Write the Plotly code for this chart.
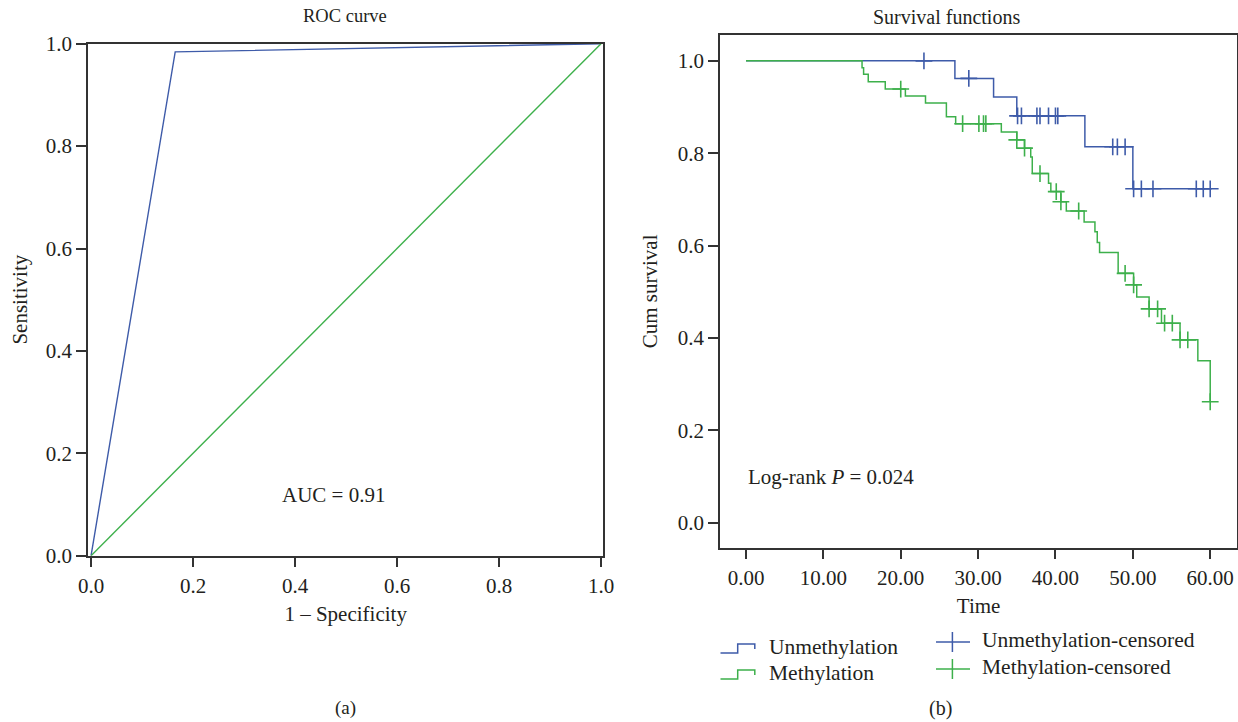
import numpy as np
import plotly.graph_objects as go

W, H = 1238, 722
FONT = "Liberation Serif"
TXT = "#231f20"
AX = "#333333"
BLUE = "#3E5BA9"
GREEN = "#3DB04B"
FS = 21

# ---------------- data ----------------
# ROC curve
roc_fpr = [0.0, 0.165, 1.0]
roc_tpr = [0.0, 0.984, 1.0]
ref_fpr = [0.0, 1.0]
ref_tpr = [0.0, 1.0]
auc_text = "AUC = 0.91"

# Kaplan-Meier: Unmethylation
unm_time = [0.0, 27.0, 32.0, 35.0, 43.8, 50.0, 60.0]
unm_surv = [1.0, 0.962, 0.922, 0.881, 0.814, 0.723, 0.723]
unm_cens = [23.0, 28.8, 35.1, 35.6, 37.6, 38.0, 39.1, 40.0, 40.3,
            47.4, 48.0, 49.0, 50.1, 51.1, 52.6, 58.2, 59.1, 60.0]

# Kaplan-Meier: Methylation
met_time = [0.0, 15.0, 15.2, 15.8, 18.0, 20.6, 23.2, 25.9, 27.1, 33.0, 35.0,
            36.0, 36.8, 37.0, 39.1, 39.4, 40.7, 41.4, 43.7, 45.1, 45.4, 45.7,
            48.1, 50.1, 50.5, 52.1, 53.7, 56.1, 58.4, 60.0]
met_surv = [1.0, 0.985, 0.971, 0.955, 0.939, 0.924, 0.909, 0.879, 0.864, 0.846, 0.829,
            0.811, 0.792, 0.756, 0.735, 0.717, 0.695, 0.675, 0.651, 0.630, 0.607, 0.585,
            0.540, 0.515, 0.489, 0.463, 0.432, 0.396, 0.351, 0.262]
met_cens = [20.0, 28.0, 30.1, 30.7, 31.0, 35.0, 36.0, 38.0, 40.1, 40.7, 43.0,
            49.0, 50.1, 52.1, 53.2, 54.1, 55.1, 56.1, 57.1, 60.0]

roc_ticks = [0.0, 0.2, 0.4, 0.6, 0.8, 1.0]
time_ticks = [0, 10, 20, 30, 40, 50, 60]
surv_ticks = [0.0, 0.2, 0.4, 0.6, 0.8, 1.0]
logrank_text = "Log-rank <i>P</i> = 0.024"


def step_value(times, surv, t):
    idx = np.searchsorted(np.asarray(times), np.asarray(t), side="right") - 1
    return list(np.asarray(surv)[idx])


def px(x):
    return x / W


def py(y):
    return 1 - y / H


fig = go.Figure()

# ROC traces
fig.add_trace(go.Scatter(x=roc_fpr, y=roc_tpr, mode="lines",
                         line=dict(color=BLUE, width=1.4), xaxis="x", yaxis="y",
                         showlegend=False, hoverinfo="skip"))
fig.add_trace(go.Scatter(x=ref_fpr, y=ref_tpr, mode="lines",
                         line=dict(color=GREEN, width=1.4), xaxis="x", yaxis="y",
                         showlegend=False, hoverinfo="skip"))

# Survival traces
fig.add_trace(go.Scatter(x=unm_time, y=unm_surv, mode="lines", line_shape="hv",
                         line=dict(color=BLUE, width=1.5), xaxis="x2", yaxis="y2",
                         showlegend=False))
fig.add_trace(go.Scatter(x=unm_cens, y=step_value(unm_time, unm_surv, unm_cens),
                         mode="markers",
                         marker=dict(symbol="cross-thin", size=12,
                                     line=dict(color=BLUE, width=1.6)),
                         xaxis="x2", yaxis="y2", showlegend=False))
fig.add_trace(go.Scatter(x=met_time, y=met_surv, mode="lines", line_shape="hv",
                         line=dict(color=GREEN, width=1.5), xaxis="x2", yaxis="y2",
                         showlegend=False))
fig.add_trace(go.Scatter(x=met_cens, y=step_value(met_time, met_surv, met_cens),
                         mode="markers",
                         marker=dict(symbol="cross-thin", size=12,
                                     line=dict(color=GREEN, width=1.6)),
                         xaxis="x2", yaxis="y2", showlegend=False))

axis_common = dict(showline=True, linecolor=AX, linewidth=1.5, mirror=True,
                   ticks="outside", ticklen=10, tickwidth=1.5, tickcolor=AX,
                   showgrid=False, zeroline=False, automargin=False,
                   tickfont=dict(family=FONT, size=FS, color=TXT),
                   title_font=dict(family=FONT, size=FS, color=TXT))

fig.update_layout(
    width=W, height=H,
    margin=dict(l=0, r=0, t=0, b=0),
    paper_bgcolor="white", plot_bgcolor="white",
    showlegend=False,
    xaxis=dict(domain=[px(88), px(603.3)], range=[-0.006, 1.0045],
               tickvals=roc_ticks, tickformat=".1f", anchor="y",
               title=dict(text="1 – Specificity", standoff=10), **axis_common),
    yaxis=dict(domain=[py(555.7), py(43.7)], range=[0, 1],
               tickvals=roc_ticks, tickformat=".1f", anchor="x",
               title=dict(text="Sensitivity", standoff=12), **axis_common),
    xaxis2=dict(domain=[px(720), px(1237.3)], range=[-3.36, 63.5],
                tickvals=time_ticks, tickformat=".2f", anchor="y2",
                title=dict(text="Time", standoff=10), **axis_common),
    yaxis2=dict(domain=[py(547.7), py(35)], range=[-0.054, 1.056],
                tickvals=surv_ticks, tickformat=".1f", anchor="x2",
                title=dict(text="Cum survival", standoff=14), **axis_common),
)


def note(text, x, y, size=FS, xanchor="center", xref="paper", yref="paper"):
    return dict(text=text, x=x, y=y, xref=xref, yref=yref, xanchor=xanchor,
                yanchor="middle", showarrow=False,
                font=dict(family=FONT, size=size, color=TXT))


ann = [
    note("ROC curve", px(345), py(16), size=18.5),
    note("Survival functions", px(946), py(17), size=20),
    note(auc_text, 0.475, 0.119, xref="x", yref="y"),
    note(logrank_text, 0, 0.10, xanchor="left", xref="x2", yref="y2"),
    note("(a)", px(345), py(708), size=19),
    note("(b)", px(940), py(708), size=20),
]

# custom legend
legend_items = [
    ("Unmethylation", BLUE, "step", 767.0, 647),
    ("Methylation", GREEN, "step", 767.0, 673),
    ("Unmethylation-censored", BLUE, "plus", 980.0, 640),
    ("Methylation-censored", GREEN, "plus", 980.0, 667),
]
shapes = []
for label, col, kind, tx, ty in legend_items:
    ann.append(note(label, px(tx), py(ty), size=21.5, xanchor="left"))
    if kind == "step":
        base = ty + 6
        top = ty - 3
        path = (f"M {px(720.5)} {py(base)} L {px(737.7)} {py(base)} L {px(737.7)} {py(top)} "
                f"L {px(754.8)} {py(top)} L {px(754.8)} {py(top + 5)}")
        shapes.append(dict(type="path", path=path, xref="paper", yref="paper",
                           line=dict(color=col, width=1.5)))
    else:
        shapes.append(dict(type="line", x0=px(936), x1=px(970), y0=py(ty + 2), y1=py(ty + 2),
                           xref="paper", yref="paper", line=dict(color=col, width=1.5)))
        shapes.append(dict(type="line", x0=px(952.4), x1=px(952.4), y0=py(ty - 8), y1=py(ty + 12),
                           xref="paper", yref="paper", line=dict(color=col, width=1.5)))

fig.update_layout(annotations=ann, shapes=shapes)

fig.write_html("out.html", config={"displayModeBar": False},
               post_script="document.body.style.margin='0';document.body.style.overflow='hidden';")
